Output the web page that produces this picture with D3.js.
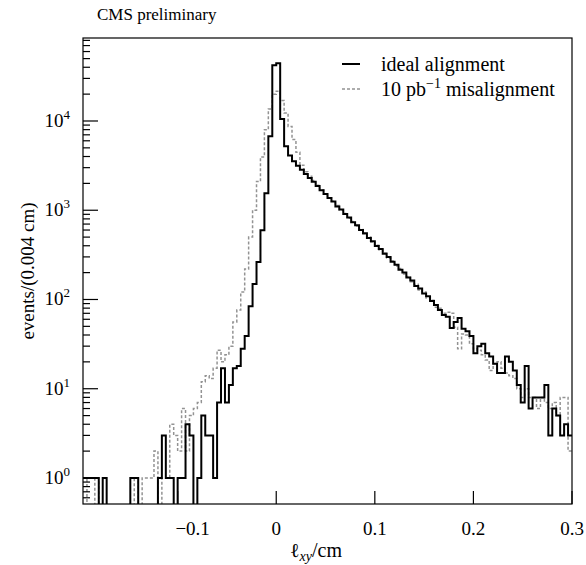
<!DOCTYPE html>
<html>
<head>
<meta charset="utf-8">
<script src="https://cdn.jsdelivr.net/npm/d3@7"></script>
<style>
  body { margin: 0; background: #fff; }
  text { font-family: 'Liberation Serif', 'DejaVu Serif', serif; fill: #000; }
</style>
</head>
<body>
<script>
// histogram binning (cm)
const xStart = -0.196
const binWidth = 0.004

// events per bin, ideal alignment (solid)
const ideal = [
  1, 1, 1, 1, 0, 1, 0, 0, 0, 0, 0, 0, 1, 1, 0, 0, 0, 0, 0, 1,
  3, 1, 1, 0, 1, 1, 4, 3, 0, 1, 5, 3, 3, 1, 7, 17, 7, 11, 17, 18,
  28, 39, 84, 149, 263, 596, 1550, 6760, 42200, 44400,
  10500, 5200, 4100, 3550, 3150, 2850, 2550, 2300, 2080, 1870,
  1680, 1520, 1370, 1250, 1100, 1020, 905, 830, 735, 680,
  600, 552, 488, 450, 398, 368, 325, 300, 264, 245,
  216, 200, 176, 163, 142, 133, 117, 109, 96, 87,
  76, 67, 64, 48, 56, 62, 47, 44, 39, 25,
  30, 32, 25, 23, 19, 15, 15, 23, 20, 16,
  11, 7, 18, 6, 8, 8, 8, 11, 3, 6,
  5, 3, 4, 3
]

// events per bin, 10 pb-1 misalignment (dashed)
const misaligned = [
  1, 0, 0, 1, 0, 0, 0, 0, 0, 0, 0, 0, 0, 1, 0, 1, 1, 1, 2, 0,
  1, 1, 4, 3, 2, 6, 2, 5, 6, 7, 12, 14, 13, 17, 27, 20, 24, 30, 56, 76,
  121, 220, 500, 1000, 2100, 3950, 8000, 13600, 20000, 21500,
  17000, 12300, 8700, 6200, 4470, 3200, 2700, 2400, 2150, 1900,
  1700, 1530, 1380, 1260, 1130, 1000, 920, 815, 750, 665,
  610, 540, 500, 440, 405, 360, 332, 292, 270, 238,
  222, 193, 181, 158, 148, 128, 121, 104, 98, 82,
  80, 70, 72, 70, 49, 28, 41, 40, 32, 28,
  27, 24, 21, 16, 19, 20, 17, 15, 14, 13,
  10, 8, 10, 8, 8, 6, 8, 7, 6, 7,
  5, 8, 8, 2
]

const xTicks = [-0.1, 0, 0.1, 0.2, 0.3]
const xTickLabels = ['\u22120.1', '0', '0.1', '0.2', '0.3']
const yExponents = [0, 1, 2, 3, 4]

/* ----------  FRAME  ---------- */
const W = 586
const H = 565
const plotL = 83
const plotR = 572
const plotT = 38
const plotB = 504

const svg = d3.select('body').append('svg')
  .attr('width', W)
  .attr('height', H)

const x = d3.scaleLinear()
  .domain([xStart, xStart + ideal.length * binWidth])
  .range([plotL, plotR])

const y = d3.scaleLog()
  .domain([0.511, 85100])
  .range([plotB, plotT])

svg.append('defs').append('clipPath')
  .attr('id', 'plotClip')
  .append('rect')
  .attr('x', plotL)
  .attr('y', plotT)
  .attr('width', plotR - plotL)
  .attr('height', plotB - plotT)

/* ----------  HISTOGRAMS  ---------- */
// step points: left edge of every bin plus the closing right edge
const stepPoints = vals => {
  const pts = vals.map((v, i) => [xStart + i * binWidth, v])
  pts.push([xStart + vals.length * binWidth, vals[vals.length - 1]])
  return pts
}

const yPos = v => v > 0 ? y(v) : plotB + 2

const histLine = d3.line()
  .x(d => x(d[0]))
  .y(d => yPos(d[1]))
  .curve(d3.curveStepAfter)

const plot = svg.append('g').attr('clip-path', 'url(#plotClip)')

plot.append('path')
  .attr('d', histLine(stepPoints(misaligned)))
  .attr('fill', 'none')
  .attr('stroke', '#939393')
  .attr('stroke-width', 1.5)
  .attr('stroke-dasharray', '3,2')

plot.append('path')
  .attr('d', histLine(stepPoints(ideal)))
  .attr('fill', 'none')
  .attr('stroke', '#000')
  .attr('stroke-width', 2)

/* ----------  AXES  ---------- */
svg.append('rect')
  .attr('x', plotL)
  .attr('y', plotT)
  .attr('width', plotR - plotL)
  .attr('height', plotB - plotT)
  .attr('fill', 'none')
  .attr('stroke', '#000')
  .attr('stroke-width', 1.2)

// x ticks (pointing up into the frame)
const xAxis = svg.append('g')
xAxis.selectAll('line')
  .data(xTicks)
  .join('line')
  .attr('x1', d => x(d))
  .attr('x2', d => x(d))
  .attr('y1', plotB)
  .attr('y2', plotB - 13)
  .attr('stroke', '#000')
  .attr('stroke-width', 1.2)

xAxis.selectAll('text')
  .data(xTicks)
  .join('text')
  .attr('x', d => x(d) + (d < 0 ? 15 : 0))
  .attr('y', plotB + 31)
  .attr('text-anchor', 'middle')
  .style('font-size', '19px')
  .text((d, i) => xTickLabels[i])

// y ticks: majors at decades, minors in between
const yAxis = svg.append('g')
const isMajor = v => Math.abs(Math.log10(v) - Math.round(Math.log10(v))) < 1e-9

yAxis.selectAll('line')
  .data(y.ticks().filter(v => v >= y.domain()[0] && v <= y.domain()[1]))
  .join('line')
  .attr('x1', plotL)
  .attr('x2', d => plotL + (isMajor(d) ? 15 : 7))
  .attr('y1', d => y(d))
  .attr('y2', d => y(d))
  .attr('stroke', '#000')
  .attr('stroke-width', 1.2)

const yLabels = yAxis.selectAll('text')
  .data(yExponents)
  .join('text')
  .attr('x', plotL - 13)
  .attr('y', d => y(Math.pow(10, d)) + 6)
  .attr('text-anchor', 'end')
  .style('font-size', '19px')

yLabels.append('tspan').text('10')
yLabels.append('tspan')
  .attr('dy', -8)
  .style('font-size', '13px')
  .text(d => d)

/* ----------  TITLES  ---------- */
svg.append('text')
  .attr('transform', `translate(34, ${(plotT + plotB) / 2}) rotate(-90)`)
  .attr('text-anchor', 'middle')
  .style('font-size', '19px')
  .text('events/(0.004 cm)')

const xTitle = svg.append('text')
  .attr('x', 316)
  .attr('y', 557)
  .attr('text-anchor', 'middle')
  .style('font-size', '20px')
xTitle.append('tspan').text('\u2113')
xTitle.append('tspan')
  .attr('dy', 4)
  .style('font-size', '14px')
  .style('font-style', 'italic')
  .text('xy')
xTitle.append('tspan')
  .attr('dy', -4)
  .text('/cm')

svg.append('text')
  .attr('x', 97)
  .attr('y', 20)
  .style('font-size', '17px')
  .text('CMS preliminary')

/* ----------  LEGEND  ---------- */
const legend = svg.append('g')

legend.append('line')
  .attr('x1', 342).attr('x2', 360)
  .attr('y1', 64).attr('y2', 64)
  .attr('stroke', '#000')
  .attr('stroke-width', 2)

legend.append('text')
  .attr('x', 381)
  .attr('y', 71)
  .style('font-size', '20px')
  .text('ideal alignment')

legend.append('line')
  .attr('x1', 342).attr('x2', 360)
  .attr('y1', 89).attr('y2', 89)
  .attr('stroke', '#939393')
  .attr('stroke-width', 1.5)
  .attr('stroke-dasharray', '3,2')

const leg2 = legend.append('text')
  .attr('x', 381)
  .attr('y', 96)
  .style('font-size', '20px')
leg2.append('tspan').text('10 pb')
leg2.append('tspan')
  .attr('dy', -8)
  .style('font-size', '14px')
  .text('\u22121')
leg2.append('tspan')
  .attr('dy', 8)
  .text(' misalignment')
</script>
</body>
</html>
